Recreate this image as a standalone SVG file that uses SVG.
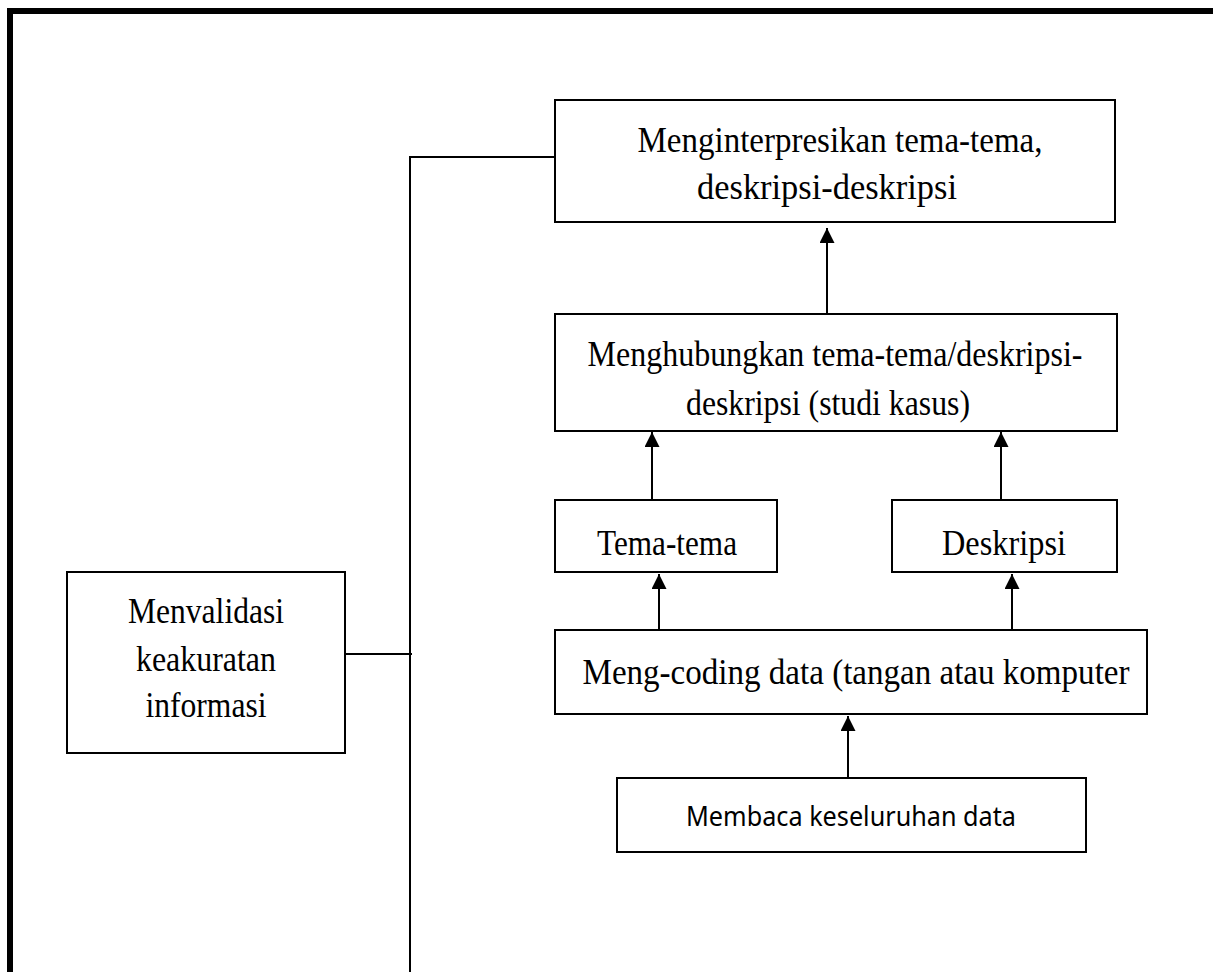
<svg xmlns="http://www.w3.org/2000/svg" width="1213" height="972" viewBox="0 0 1213 972">
<style>
.box{fill:#fff;stroke:#000;stroke-width:2}
.t{font-family:"Liberation Serif","Times New Roman",serif;font-size:35px;fill:#000;text-anchor:middle}
.s{font-family:"Noto Sans","Open Sans",sans-serif;font-size:28px;fill:#000;text-anchor:middle}
.ln{fill:none;stroke:#000;stroke-width:2}
</style>
<defs>
<marker id="ah" viewBox="0 0 10 10" refX="10" refY="5" markerWidth="19" markerHeight="15" markerUnits="userSpaceOnUse" orient="auto">
<path d="M0,0 L10,5 L0,10 z" fill="#000"/>
</marker>
</defs>
<rect width="1213" height="972" fill="#fff"/>
<path d="M10,972 V11 H1213" fill="none" stroke="#000" stroke-width="6"/>
<g id="connectors">
<path class="ln" d="M555,157 H410 V972"/>
<path class="ln" d="M345,654 H412"/>
<path class="ln" d="M827,314 V228" marker-end="url(#ah)"/>
<path class="ln" d="M652,500 V432" marker-end="url(#ah)"/>
<path class="ln" d="M1001,500 V432" marker-end="url(#ah)"/>
<path class="ln" d="M659,630 V574" marker-end="url(#ah)"/>
<path class="ln" d="M1012,630 V574" marker-end="url(#ah)"/>
<path class="ln" d="M848,778 V716" marker-end="url(#ah)"/>
</g>
<g id="n-interpretasi">
<rect class="box" x="555" y="100" width="560" height="122"/>
<text class="t" x="840" y="152" textLength="405" lengthAdjust="spacingAndGlyphs">Menginterpresikan tema-tema,</text>
<text class="t" x="827" y="199" textLength="260" lengthAdjust="spacingAndGlyphs">deskripsi-deskripsi</text>
</g>
<g id="n-hubungkan">
<rect class="box" x="555" y="314" width="562" height="117"/>
<text class="t" x="835" y="366" textLength="495" lengthAdjust="spacingAndGlyphs">Menghubungkan tema-tema/deskripsi-</text>
<text class="t" x="828" y="415" textLength="284" lengthAdjust="spacingAndGlyphs">deskripsi (studi kasus)</text>
</g>
<g id="n-tema">
<rect class="box" x="555" y="500" width="222" height="72"/>
<text class="t" x="667" y="555" textLength="140" lengthAdjust="spacingAndGlyphs">Tema-tema</text>
</g>
<g id="n-deskripsi">
<rect class="box" x="892" y="500" width="225" height="72"/>
<text class="t" x="1004" y="555" textLength="124" lengthAdjust="spacingAndGlyphs">Deskripsi</text>
</g>
<g id="n-coding">
<rect class="box" x="555" y="630" width="592" height="84"/>
<text class="t" x="856" y="684" textLength="547" lengthAdjust="spacingAndGlyphs">Meng-coding data (tangan atau komputer</text>
</g>
<g id="n-membaca">
<rect class="box" x="617" y="778" width="469" height="74"/>
<text class="s" x="851" y="826" textLength="330" lengthAdjust="spacingAndGlyphs">Membaca keseluruhan data</text>
</g>
<g id="n-validasi">
<rect class="box" x="67" y="572" width="278" height="181"/>
<text class="t" x="206" y="623" textLength="156" lengthAdjust="spacingAndGlyphs">Menvalidasi</text>
<text class="t" x="206" y="671" textLength="140" lengthAdjust="spacingAndGlyphs">keakuratan</text>
<text class="t" x="206" y="717" textLength="121" lengthAdjust="spacingAndGlyphs">informasi</text>
</g>
</svg>
